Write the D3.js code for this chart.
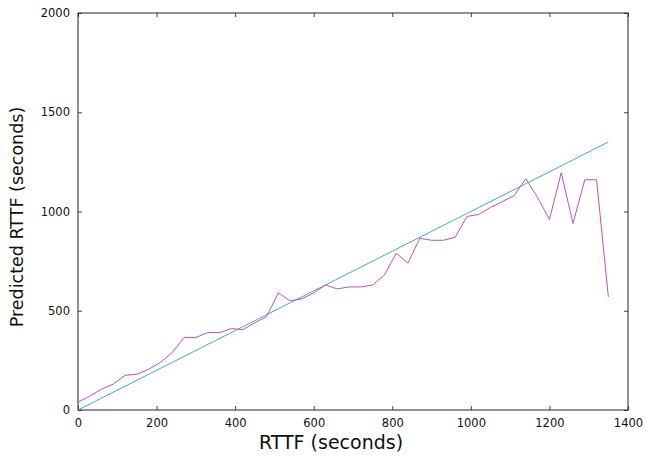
<!DOCTYPE html>
<html>
<head>
<meta charset="utf-8">
<script src="https://cdn.jsdelivr.net/npm/d3@7"></script>
<style>
  body { margin: 0; background: #fff; }
  text { font-family: "DejaVu Sans", Verdana, sans-serif; fill: #111; }
</style>
</head>
<body>
<div class="container"></div>
<script>
// measured RTTF (x) and predicted RTTF (y), seconds
var rttf = [0, 30, 60, 90, 120, 150, 180, 210, 240, 270, 300, 330, 360, 390, 420, 450,
            480, 510, 540, 570, 600, 630, 660, 690, 720, 750, 780, 810, 840, 870, 900,
            930, 960, 990, 1020, 1050, 1080, 1110, 1140, 1170, 1200, 1230, 1260, 1290,
            1320, 1350];
var predicted = [40, 70, 105, 130, 175, 180, 205, 240, 290, 365, 365, 390, 390, 410, 405, 440,
                 470, 590, 550, 560, 590, 630, 610, 620, 620, 630, 680, 790, 740, 865, 855,
                 855, 870, 975, 985, 1020, 1050, 1080, 1165, 1070, 960, 1195, 940, 1160,
                 1160, 570];
var ideal = [0, 1350];

var xTicks = [0, 200, 400, 600, 800, 1000, 1200, 1400];
var yTicks = [0, 500, 1000, 1500, 2000];

var margin = {top: 13, right: 18, bottom: 47, left: 78},
    width = 646,
    height = 457;

var svg = d3.select("div.container").append("svg")
    .attr("width", width)
    .attr("height", height);

var x = d3.scaleLinear().domain([0, 1400]).range([margin.left, width - margin.right]);
var y = d3.scaleLinear().domain([0, 2000]).range([height - margin.bottom, margin.top]);

// ticks on all four sides, pointing inward
svg.append("g")
    .attr("transform", "translate(0," + y(0) + ")")
    .call(d3.axisBottom(x).tickValues(xTicks).tickSize(-4).tickPadding(9).tickFormat(d3.format("d")))
    .call(g => g.select(".domain").remove());
svg.append("g")
    .attr("transform", "translate(0," + y(2000) + ")")
    .call(d3.axisTop(x).tickValues(xTicks).tickSize(-4).tickFormat(""))
    .call(g => g.select(".domain").remove());
svg.append("g")
    .attr("transform", "translate(" + x(0) + ",0)")
    .call(d3.axisLeft(y).tickValues(yTicks).tickSize(-4).tickPadding(8).tickFormat(d3.format("d")))
    .call(g => g.select(".domain").remove());
svg.append("g")
    .attr("transform", "translate(" + x(1400) + ",0)")
    .call(d3.axisRight(y).tickValues(yTicks).tickSize(-4).tickFormat(""))
    .call(g => g.select(".domain").remove());

svg.selectAll(".tick line").attr("stroke", "#444");
svg.selectAll(".tick text").style("font-size", "11.5px").attr("fill", "#111");

// frame
svg.append("rect")
    .attr("x", x(0)).attr("y", y(2000))
    .attr("width", x(1400) - x(0)).attr("height", y(0) - y(2000))
    .attr("fill", "none").attr("stroke", "#222").attr("stroke-width", 1);

// y = x reference
svg.append("path")
    .datum(ideal)
    .attr("fill", "none")
    .attr("stroke", "#45b0a4")
    .attr("stroke-width", 1)
    .attr("d", d3.line().x(d => x(d)).y(d => y(d)));

// predicted
var pts = rttf.map(function(d, i) { return [d, predicted[i]]; });
svg.append("path")
    .datum(pts)
    .attr("fill", "none")
    .attr("stroke", "#b852bd")
    .attr("stroke-width", 1)
    .attr("d", d3.line().x(d => x(d[0])).y(d => y(d[1])));

svg.append("text")
    .attr("x", 331)
    .attr("y", 449)
    .attr("text-anchor", "middle")
    .style("font-size", "19px")
    .text("RTTF (seconds)");

svg.append("text")
    .attr("transform", "translate(23,217) rotate(-90)")
    .attr("text-anchor", "middle")
    .style("font-size", "17.5px")
    .text("Predicted RTTF (seconds)");
</script>
</body>
</html>
